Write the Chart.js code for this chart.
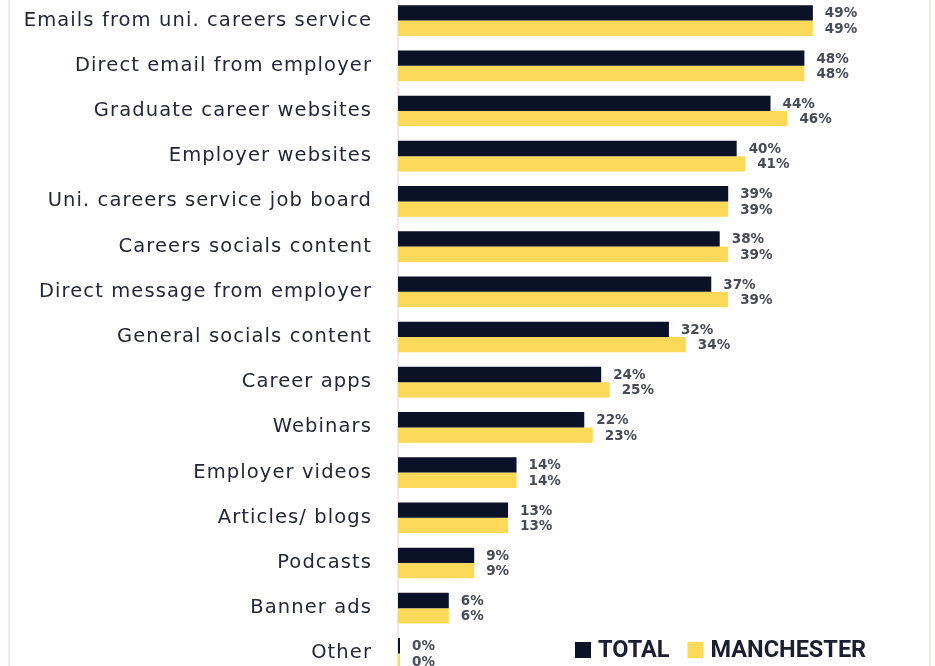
<!DOCTYPE html>
<html>
<head>
<meta charset="utf-8">
<script src="https://cdn.jsdelivr.net/npm/chart.js@4.4.1/dist/chart.umd.min.js"></script>
<style>
  html, body { margin: 0; padding: 0; background: #ffffff; }
  #frame {
    position: relative; width: 935px; height: 666px; overflow: hidden; background: #ffffff;
  }
  #frame .edge { position: absolute; top: 0; bottom: 0; width: 2px; background: #fbe5e2; }
  #wrap { position: absolute; left: 0; top: -6px; width: 935px; height: 690px; }
</style>
</head>
<body>
<div id="frame">
  <div class="edge" style="left: 8px;"></div>
  <div class="edge" style="left: 929px;"></div>
  <div id="wrap"><canvas id="sourcesChart"></canvas></div>
</div>
<script>
// Where students hear about graduate roles, % of respondents
const categories = [
  'Emails from uni. careers service',
  'Direct email from employer',
  'Graduate career websites',
  'Employer websites',
  'Uni. careers service job board',
  'Careers socials content',
  'Direct message from employer',
  'General socials content',
  'Career apps',
  'Webinars',
  'Employer videos',
  'Articles/ blogs',
  'Podcasts',
  'Banner ads',
  'Other'
];
const totalValues = [49, 48, 44, 40, 39, 38, 37, 32, 24, 22, 14, 13, 9, 6, 0];
const manchesterValues = [49, 48, 46, 41, 39, 39, 39, 34, 25, 23, 14, 13, 9, 6, 0];
const seriesNames = ['TOTAL', 'MANCHESTER'];

const NAVY = '#0b1127';
const YELLOW = '#fdd95a';
const LABEL_FONT = '"DejaVu Sans", "Noto Sans", sans-serif';

// wider tracking for the category names (scales are drawn before the bars)
const tracking = {
  id: 'tracking',
  beforeDraw(chart) { chart.ctx.letterSpacing = '1.1px'; },
  beforeDatasetsDraw(chart) { chart.ctx.letterSpacing = '0px'; }
};

// percentage next to each bar
const valueLabels = {
  id: 'valueLabels',
  afterDatasetsDraw(chart) {
    const ctx = chart.ctx;
    ctx.save();
    ctx.font = 'bold 13.5px ' + LABEL_FONT;
    ctx.fillStyle = '#474a58';
    ctx.textAlign = 'left';
    ctx.textBaseline = 'middle';
    chart.data.datasets.forEach((ds, di) => {
      chart.getDatasetMeta(di).data.forEach((bar, i) => {
        ctx.fillText(ds.data[i] + '%', bar.x + 12, bar.y + 1);
      });
    });
    ctx.restore();
  }
};

// legend sits in the bottom right corner, over the plot
const cornerLegend = {
  id: 'cornerLegend',
  afterDraw(chart) {
    const ctx = chart.ctx;
    const cy = 656;
    let x = 575;
    ctx.save();
    ctx.font = 'bold 23.5px Roboto, ' + LABEL_FONT;
    ctx.textBaseline = 'middle';
    chart.data.datasets.forEach((ds) => {
      ctx.fillStyle = ds.backgroundColor;
      ctx.fillRect(x, cy - 8, 16, 16);
      x += 23;
      ctx.fillStyle = '#1b1e30';
      ctx.fillText(ds.label, x, cy + 1);
      x += ctx.measureText(ds.label).width + 18;
    });
    ctx.restore();
  }
};

new Chart(document.getElementById('sourcesChart'), {
  type: 'bar',
  data: {
    labels: categories,
    datasets: [
      { label: seriesNames[0], data: totalValues, backgroundColor: NAVY },
      { label: seriesNames[1], data: manchesterValues, backgroundColor: YELLOW }
    ]
  },
  options: {
    indexAxis: 'y',
    responsive: true,
    maintainAspectRatio: false,
    animation: false,
    layout: { padding: { left: 0, right: 29, top: 4, bottom: 8 } },
    datasets: { bar: { categoryPercentage: 0.68, barPercentage: 1, minBarLength: 2 } },
    scales: {
      x: { min: 0, max: 60, display: false },
      y: {
        afterFit(scale) {
          scale.width = 398;
          scale.paddingTop = 0;
          scale.paddingBottom = 0;
        },
        grid: { display: false, drawTicks: false },
        border: { display: true, color: '#fbe5e2', width: 2 },
        ticks: {
          padding: 26,
          color: '#24273a',
          font: { family: LABEL_FONT, size: 19.5 }
        }
      }
    },
    plugins: {
      legend: { display: false },
      tooltip: { enabled: false }
    }
  },
  plugins: [tracking, valueLabels, cornerLegend]
});
</script>
</body>
</html>
